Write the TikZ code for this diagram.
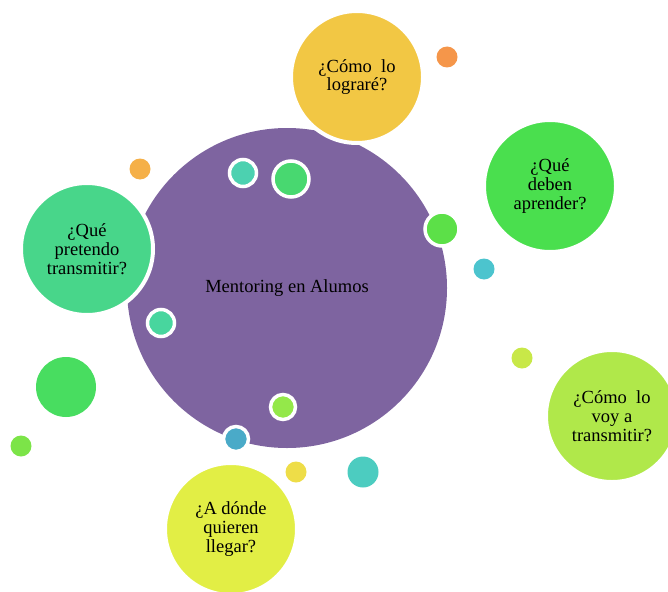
\documentclass[tikz,border=0pt]{standalone}
\usepackage{fontspec}
\setmainfont{Liberation Serif}
\usetikzlibrary{positioning}

\definecolor{purpleC}{HTML}{7E64A0}
\definecolor{yellowC}{HTML}{F2C744}
\definecolor{greenC}{HTML}{4ADF4E}
\definecolor{mintC}{HTML}{48D68A}
\definecolor{limeC}{HTML}{B0E84A}
\definecolor{citrusC}{HTML}{E2EE45}
% small circles
\definecolor{tealA}{HTML}{4CD1B0}
\definecolor{greenA}{HTML}{48D870}
\definecolor{greenB}{HTML}{5CE048}
\definecolor{mintA}{HTML}{48D69E}
\definecolor{limeA}{HTML}{94E84A}
\definecolor{blueA}{HTML}{4AAAC8}
\definecolor{orangeA}{HTML}{F5964A}
\definecolor{orangeB}{HTML}{F5B048}
\definecolor{tealB}{HTML}{4CC4CE}
\definecolor{limeB}{HTML}{C8E848}
\definecolor{greenD}{HTML}{48DD60}
\definecolor{greenE}{HTML}{7CE448}
\definecolor{yellowA}{HTML}{EEDD48}
\definecolor{tealC}{HTML}{4CCCC0}

\tikzset{
  bubble/.style={circle, fill=#1, draw=white, line width=4pt, inner sep=0pt,
    minimum size=132pt, align=center, text=black,
    font=\fontsize{18.5}{18.8}\selectfont},
  ring/.style={circle, fill=#1, draw=white, line width=3.5pt, inner sep=0pt},
  dot/.style={circle, fill=#1, inner sep=0pt}
}

\begin{document}
\begin{tikzpicture}[x=1pt,y=-1pt]
  \useasboundingbox (0,0) rectangle (668,591);

  % centre
  \node[circle, fill=purpleC, inner sep=0pt, minimum size=320pt,
    font=\fontsize{18.5}{18.8}\selectfont] (centro) at (287,288) {Mentoring en Alumos};

  % questions
  \node[bubble=yellowC] (lograre) at (357,77) {¿Cómo\ \ lo\\lograré?};
  \node[bubble=greenC] (aprender) at (550,186) {¿Qué\\deben\\aprender?};
  \node[bubble=mintC] (pretendo) at (87,249) {¿Qué\\pretendo\\transmitir?};
  \node[bubble=limeC] (voy) at (612,416) {¿Cómo\ \ lo\\voy a\\transmitir?};
  \node[bubble=citrusC] (llegar) at (231,529) {¿A dónde\\quieren\\llegar?};

  % rings on the centre
  \node[ring=tealA, minimum size=27pt] (r1) at (243,173) {};
  \node[ring=greenA, minimum size=36pt] (r2) at (291,179) {};
  \node[ring=greenB, minimum size=34pt] (r3) at (442,229) {};
  \node[ring=mintA, minimum size=27pt] (r4) at (161,323) {};
  \node[ring=limeA, minimum size=25pt] (r5) at (283,407) {};
  \node[ring=blueA, minimum size=25pt] (r6) at (236,439) {};

  % loose dots
  \node[dot=orangeA, minimum size=21pt] (d1) at (447,57) {};
  \node[dot=orangeB, minimum size=21pt] (d2) at (140,169) {};
  \node[dot=tealB, minimum size=21pt] (d3) at (484,269) {};
  \node[dot=limeB, minimum size=21pt] (d4) at (522,358) {};
  \node[dot=greenD, minimum size=60pt] (d5) at (66,387) {};
  \node[dot=greenE, minimum size=21pt] (d6) at (21,446) {};
  \node[dot=yellowA, minimum size=21pt] (d7) at (296,472) {};
  \node[dot=tealC, minimum size=31pt] (d8) at (363,472) {};
\end{tikzpicture}
\end{document}
